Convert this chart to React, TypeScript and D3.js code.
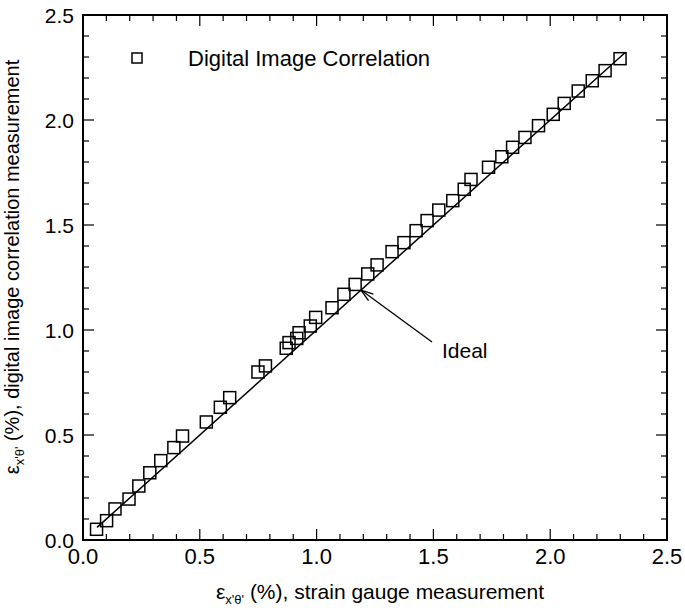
import React from "react";
import * as d3 from "d3";

// Strain measured by digital image correlation vs. strain gauge (both in %)
const gaugeStrain = [
  0.058, 0.101, 0.137, 0.197, 0.239, 0.286, 0.333, 0.389, 0.426, 0.528, 0.588,
  0.628, 0.749, 0.781, 0.87, 0.882, 0.915, 0.925, 0.973, 0.996, 1.066, 1.117,
  1.165, 1.219, 1.259, 1.323, 1.374, 1.426, 1.473, 1.523, 1.583, 1.632, 1.661,
  1.736, 1.793, 1.839, 1.892, 1.95, 2.013, 2.06, 2.12, 2.18, 2.235, 2.299,
];
const dicStrain = [
  0.051, 0.092, 0.148, 0.195, 0.257, 0.32, 0.378, 0.44, 0.495, 0.562, 0.632,
  0.678, 0.8, 0.829, 0.913, 0.94, 0.96, 0.987, 1.019, 1.06, 1.106, 1.17, 1.217,
  1.267, 1.31, 1.373, 1.416, 1.473, 1.521, 1.571, 1.616, 1.67, 1.717, 1.775,
  1.825, 1.87, 1.917, 1.973, 2.027, 2.079, 2.138, 2.187, 2.235, 2.292,
];
// Ideal 1:1 line end points
const idealRange = [0.06, 2.32];
const majorTicks = [0, 0.5, 1.0, 1.5, 2.0, 2.5];
const tickLabels = ["0.0", "0.5", "1.0", "1.5", "2.0", "2.5"];
const minorTicks = d3.range(0, 26).map((i) => i / 10);
const legendLabel = "Digital Image Correlation";
const annotation = { text: "Ideal", at: 1.19 };

const W = 685;
const H = 612;
const L = 83, R = 667, T = 15, B = 540;
const FONT = "'Liberation Sans', Arial, Helvetica, sans-serif";

export default function App() {
  const x = d3.scaleLinear().domain([0, 2.5]).range([L, R]);
  const y = d3.scaleLinear().domain([0, 2.5]).range([B, T]);
  const line = d3
    .line<number>()
    .x((d) => x(d))
    .y((d) => y(d));

  const ms = 12; // marker side
  const tipX = x(annotation.at);
  const tipY = y(annotation.at);
  const tailX = 432;
  const tailY = 342;
  const ang = Math.atan2(tailY - tipY, tailX - tipX);
  const headLen = 13;
  const headSpread = 0.32;

  return (
    <svg
      width={W}
      height={H}
      style={{ position: "absolute", left: 0, top: 0, background: "#fff" }}
      fontFamily={FONT}
    >
      <rect x={0} y={0} width={W} height={H} fill="#fff" />
      {/* minor and major ticks on all four sides */}
      <g stroke="#000" strokeWidth={1.2}>
        {minorTicks.map((t) => {
          const major = Math.abs(t * 2 - Math.round(t * 2)) < 1e-6;
          const len = major ? 11 : 6;
          return (
            <g key={t}>
              <line x1={x(t)} x2={x(t)} y1={B} y2={B - len} />
              <line x1={x(t)} x2={x(t)} y1={T} y2={T + len} />
              <line x1={L} x2={L + len} y1={y(t)} y2={y(t)} />
              <line x1={R} x2={R - len} y1={y(t)} y2={y(t)} />
            </g>
          );
        })}
      </g>
      <rect
        x={L}
        y={T}
        width={R - L}
        height={B - T}
        fill="none"
        stroke="#000"
        strokeWidth={2}
      />
      {/* tick labels */}
      <g fill="#000">
        {majorTicks.map((t, i) => (
          <text key={"x" + t} x={x(t)} y={564} textAnchor="middle" fontSize={22}>
            {tickLabels[i]}
          </text>
        ))}
        {majorTicks.map((t, i) => (
          <text
            key={"y" + t}
            x={74}
            y={y(t)}
            dy="0.36em"
            textAnchor="end"
            fontSize={21}
          >
            {tickLabels[i]}
          </text>
        ))}
      </g>
      {/* ideal line */}
      <path d={line(idealRange) || ""} stroke="#000" strokeWidth={1.5} fill="none" />
      {/* measured points */}
      <g fill="none" stroke="#000" strokeWidth={1.5}>
        {gaugeStrain.map((g, i) => (
          <rect
            key={i}
            x={x(g) - ms / 2}
            y={y(dicStrain[i]) - ms / 2}
            width={ms}
            height={ms}
          />
        ))}
      </g>
      {/* annotation arrow */}
      <g stroke="#000" strokeWidth={1.3} fill="none">
        <line x1={tailX} y1={tailY} x2={tipX} y2={tipY} />
        <line
          x1={tipX}
          y1={tipY}
          x2={tipX + headLen * Math.cos(ang + headSpread)}
          y2={tipY + headLen * Math.sin(ang + headSpread)}
        />
        <line
          x1={tipX}
          y1={tipY}
          x2={tipX + headLen * Math.cos(ang - headSpread)}
          y2={tipY + headLen * Math.sin(ang - headSpread)}
        />
      </g>
      <text x={442} y={358} fontSize={21}>
        {annotation.text}
      </text>
      {/* legend */}
      <rect x={132} y={53} width={10} height={10} fill="none" stroke="#000" strokeWidth={1.5} />
      <text x={188} y={66} fontSize={22}>
        {legendLabel}
      </text>
      {/* axis titles */}
      <text x={380} y={599} fontSize={21} textAnchor="middle">
        ε
        <tspan fontSize={13} dy={5}>
          x'θ'
        </tspan>
        <tspan dy={-5}> (%), strain gauge measurement</tspan>
      </text>
      <text
        transform="translate(19, 267) rotate(-90)"
        fontSize={20}
        textAnchor="middle"
      >
        ε
        <tspan fontSize={13} dy={5}>
          x'θ'
        </tspan>
        <tspan dy={-5}> (%), digital image correlation measurement</tspan>
      </text>
    </svg>
  );
}
